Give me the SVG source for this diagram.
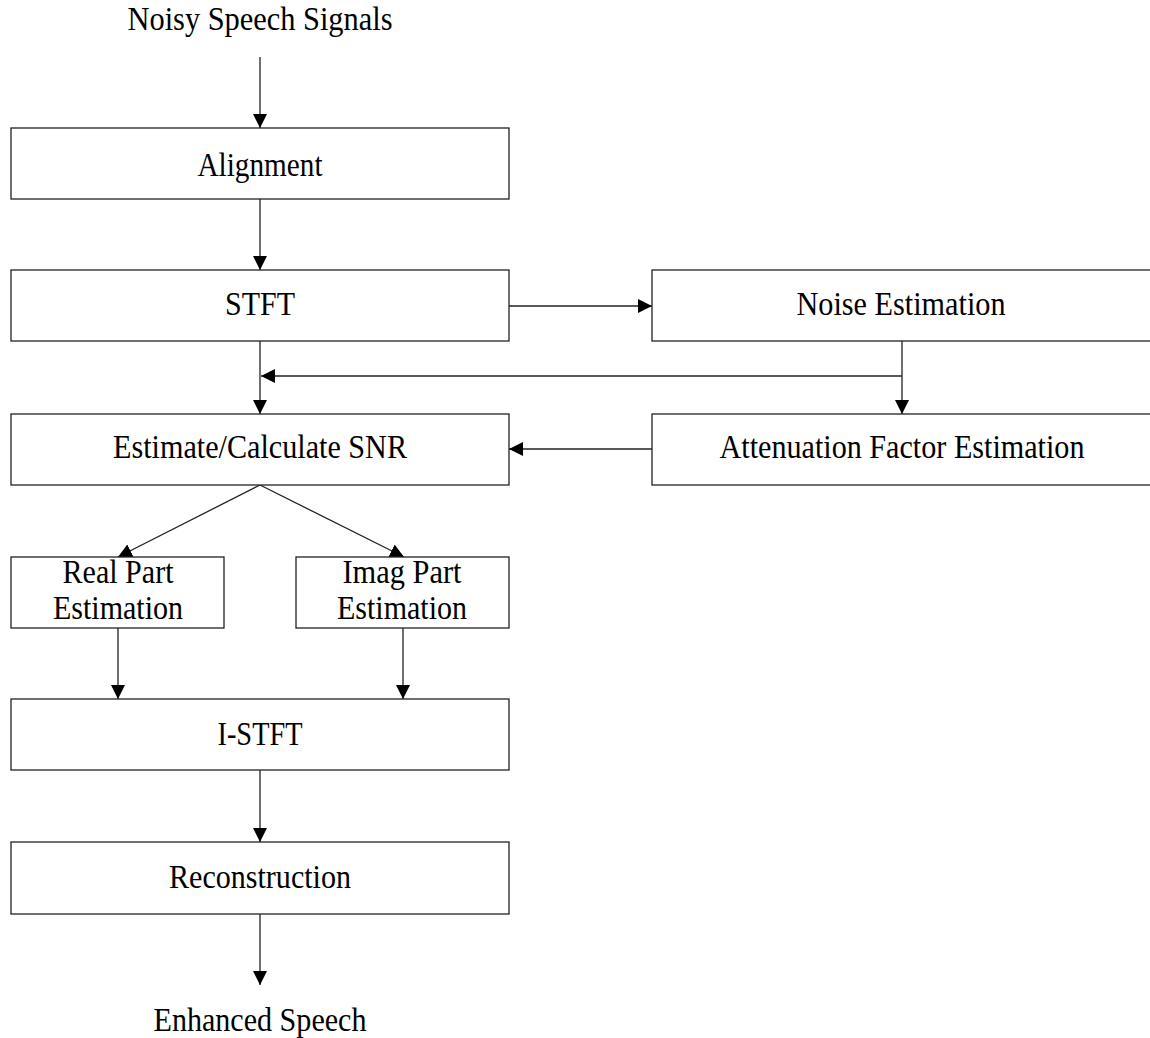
<svg xmlns="http://www.w3.org/2000/svg" width="1150" height="1038" viewBox="0 0 1150 1038">
<defs>
<marker id="ah" markerUnits="userSpaceOnUse" markerWidth="14" markerHeight="14" refX="14" refY="7" orient="auto">
<path d="M0,0 L14,7 L0,14 Z" fill="#000"/>
</marker>
</defs>
<style>
.box{fill:#fff;stroke:#222;stroke-width:1.3}
.t{font-family:"Liberation Serif","Times New Roman",serif;font-size:33px;fill:#000;text-anchor:middle}
.c{stroke:#222;stroke-width:1.3;fill:none;marker-end:url(#ah)}
</style>
<rect width="1150" height="1038" fill="#fff"/>
<g id="connectors">
<line class="c" x1="260" y1="57" x2="260" y2="128"/>
<line class="c" x1="260" y1="199" x2="260" y2="270"/>
<line class="c" x1="509" y1="306" x2="652" y2="306"/>
<line class="c" x1="260" y1="341" x2="260" y2="414"/>
<line class="c" x1="902" y1="341" x2="902" y2="414"/>
<line class="c" x1="902" y1="376" x2="261" y2="376"/>
<line class="c" x1="652" y1="449" x2="509" y2="449"/>
<line class="c" x1="260" y1="485" x2="118" y2="557"/>
<line class="c" x1="260" y1="485" x2="404" y2="557"/>
<line class="c" x1="118" y1="628" x2="118" y2="699"/>
<line class="c" x1="403" y1="628" x2="403" y2="699"/>
<line class="c" x1="260" y1="770" x2="260" y2="842"/>
<line class="c" x1="260" y1="914" x2="260" y2="985"/>
</g>
<g id="input"><text class="t" x="260" y="30" textLength="265" lengthAdjust="spacingAndGlyphs">Noisy Speech Signals</text></g>
<g id="alignment"><rect class="box" x="11" y="128" width="498" height="71"/><text class="t" x="260" y="176" textLength="125" lengthAdjust="spacingAndGlyphs">Alignment</text></g>
<g id="stft"><rect class="box" x="11" y="270" width="498" height="71"/><text class="t" x="260" y="315" textLength="70" lengthAdjust="spacingAndGlyphs">STFT</text></g>
<g id="noise"><rect class="box" x="652" y="270" width="500" height="71"/><text class="t" x="901" y="315" textLength="209" lengthAdjust="spacingAndGlyphs">Noise Estimation</text></g>
<g id="snr"><rect class="box" x="11" y="414" width="498" height="71"/><text class="t" x="260" y="458" textLength="294" lengthAdjust="spacingAndGlyphs">Estimate/Calculate SNR</text></g>
<g id="atten"><rect class="box" x="652" y="414" width="500" height="71"/><text class="t" x="902" y="458" textLength="365" lengthAdjust="spacingAndGlyphs">Attenuation Factor Estimation</text></g>
<g id="real"><rect class="box" x="11" y="557" width="213" height="71"/><text class="t" x="118" y="583" textLength="111" lengthAdjust="spacingAndGlyphs">Real Part</text><text class="t" x="118" y="619" textLength="130" lengthAdjust="spacingAndGlyphs">Estimation</text></g>
<g id="imag"><rect class="box" x="296" y="557" width="213" height="71"/><text class="t" x="402" y="583" textLength="119" lengthAdjust="spacingAndGlyphs">Imag Part</text><text class="t" x="402" y="619" textLength="130" lengthAdjust="spacingAndGlyphs">Estimation</text></g>
<g id="istft"><rect class="box" x="11" y="699" width="498" height="71"/><text class="t" x="260" y="745" textLength="85" lengthAdjust="spacingAndGlyphs">I-STFT</text></g>
<g id="recon"><rect class="box" x="11" y="842" width="498" height="72"/><text class="t" x="260" y="888" textLength="182" lengthAdjust="spacingAndGlyphs">Reconstruction</text></g>
<g id="output"><text class="t" x="260" y="1031" textLength="213" lengthAdjust="spacingAndGlyphs">Enhanced Speech</text></g>
</svg>
